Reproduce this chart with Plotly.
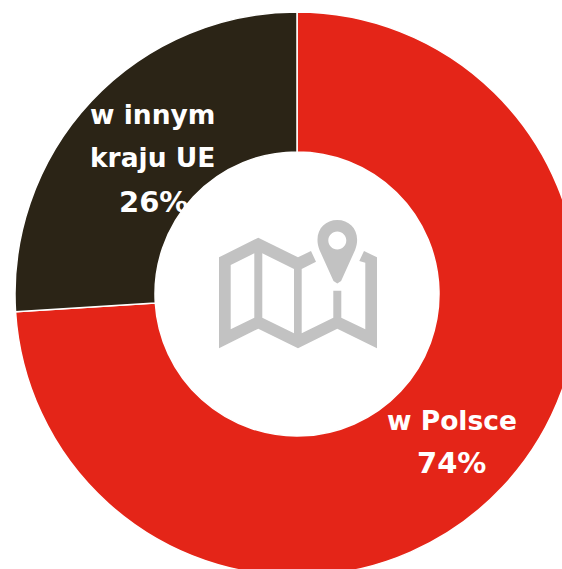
import plotly.graph_objects as go

labels = ["w Polsce", "w innym kraju UE"]
values = [74, 26]
colors = ["#E42518", "#2B2416"]
line_groups = [["w Polsce"], ["w innym", "kraju UE"]]

W, H = 600, 600
CX, CY, R = 297, 294, 282
INNER = 142
FONT = "DejaVu Sans"


def px(x):
    return x / W


def py(y):
    return 1 - y / H


def path(cmds):
    out = []
    for c, *pts in cmds:
        out.append(c + " ".join(f"{px(p[0]):.5f},{py(p[1]):.5f}" for p in pts))
    return " ".join(out)


def circle(cx, cy, r):
    k = 0.5523 * r
    return [
        ("M", (cx - r, cy)),
        ("C", (cx - r, cy - k), (cx - k, cy - r), (cx, cy - r)),
        ("C", (cx + k, cy - r), (cx + r, cy - k), (cx + r, cy)),
        ("C", (cx + r, cy + k), (cx + k, cy + r), (cx, cy + r)),
        ("C", (cx - k, cy + r), (cx - r, cy + k), (cx - r, cy)),
        ("Z",),
    ]


def poly(pts):
    return [("M", pts[0])] + [("L", p) for p in pts[1:]] + [("Z",)]


map_outline = [(219, 257.3), (258.3, 237.7), (298, 257.3), (311, 251), (316, 261.7), (301.7, 269),
               (301.7, 333.3), (333.3, 317.7), (333.3, 290.7), (341.3, 290.7), (341.3, 317.7),
               (365.3, 329.3), (365.3, 262.7), (359.3, 261), (364, 251), (377, 257.3), (377, 348.3),
               (337.3, 328.7), (298, 348.3), (258.3, 328.7), (219, 348.3)]
panel_left = [(230.7, 265), (254.3, 253.3), (254.3, 317.7), (230.7, 329.3)]
panel_mid = [(262.3, 253.3), (294, 269), (294, 333.3), (262.3, 317.7)]

pin = [
    ("M", (337.3, 283.5)),
    ("L", (333.5, 281)),
    ("L", (319.5, 250)),
    ("C", (313, 233), (323, 220), (337.3, 220)),
    ("C", (351.6, 220), (361.6, 233), (355.1, 250)),
    ("L", (341.1, 281)),
    ("Z",),
] + circle(337.3, 240.5, 9)

icon = path(poly(map_outline) + poly(panel_left) + poly(panel_mid) + pin)

fig = go.Figure(go.Pie(
    labels=labels,
    values=values,
    hole=INNER / R,
    sort=False,
    direction="clockwise",
    rotation=0,
    textinfo="none",
    hoverinfo="label+percent",
    marker=dict(colors=colors, line=dict(color="#FFFFFF", width=1.5)),
    domain=dict(x=[px(CX - R), px(CX + R)], y=[py(CY + R), py(CY - R)]),
    showlegend=False,
))


def note(text, x, y, size):
    return dict(text=f"<b>{text}</b>", x=px(x), y=py(y), xref="paper", yref="paper",
                showarrow=False, xanchor="center", yanchor="middle",
                font=dict(family=FONT, size=size, color="#FFFFFF"))


annotations = [
    note(line_groups[0][0], 452, 420, 26.5),
    note(f"{values[0]}%", 451, 462.5, 29),
    note(line_groups[1][0], 152.5, 115, 26.5),
    note(line_groups[1][1], 152.5, 158, 26.5),
    note(f"{values[1]}%", 153, 201.5, 29),
]

fig.update_layout(
    width=W, height=H,
    margin=dict(l=0, r=0, t=0, b=0),
    paper_bgcolor="#FFFFFF",
    annotations=annotations,
    shapes=[dict(type="path", xref="paper", yref="paper", path=icon,
                 fillcolor="#C2C2C2", fillrule="evenodd", line=dict(width=0))],
)

fig.write_html(
    "out.html",
    config={"displayModeBar": False},
    post_script="document.body.style.margin='0';document.documentElement.style.overflow='hidden';document.body.style.overflow='hidden';",
)
